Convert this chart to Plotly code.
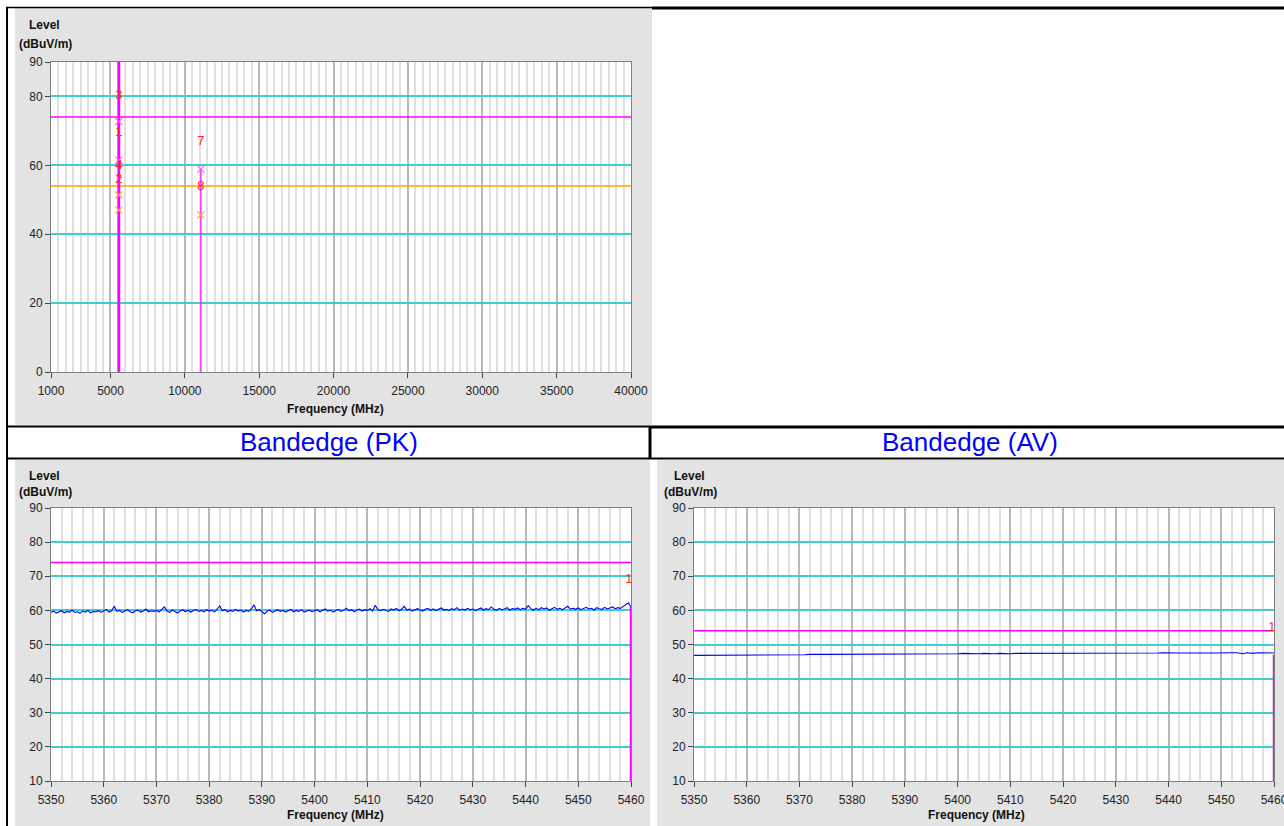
import plotly.graph_objects as go

W, H = 1284, 826

# ---------------- data ----------------
# Top chart (1 - 40 GHz scan)
top_x_ticks = [1000, 5000, 10000, 15000, 20000, 25000, 30000, 35000, 40000]
top_x_labels = ["1000", "5000", "10000", "15000", "20000", "25000", "30000", "35000", "40000"]
top_y_ticks = [0, 20, 40, 60, 80, 90]
top_peak_limit = 74
top_avg_limit = 54
top_spectrum_freqs = [5560, 11080]
top_spectrum_levels = [96, 58.9]
top_peak_mark_freqs = [5560, 5560, 11080]
top_peak_mark_levels = [72.7, 61.5, 58.9]
top_avg_mark_freqs = [5560, 5560, 11080]
top_avg_mark_levels = [51.4, 47.0, 45.6]
top_label_text = ["3", "1", "4", "2", "7", "8"]
top_label_freqs = [5560, 5560, 5560, 5560, 11080, 11080]
top_label_levels = [80.1, 69.4, 59.8, 55.7, 66.9, 53.8]

# Bandedge (PK)
pk_start = 5350
pk_step = 0.5
pk_levels = [
    59.4, 59.8, 59.2, 59.6, 59.9, 59.3, 59.7, 59.5, 60.1, 59.4, 59.6, 59.2, 59.8, 59.5, 60.0, 59.3, 59.7, 59.6, 59.9, 59.4,
    59.8, 60.3, 59.5, 59.9, 61.2, 59.7, 60.0, 59.4, 59.8, 60.2, 59.6, 59.3, 59.9, 60.1, 59.5, 59.8, 60.4, 59.6, 59.9, 59.7,
    60.0, 59.5, 60.3, 61.0, 59.8, 59.4, 60.1, 59.7, 59.2, 59.9, 60.2, 59.6, 60.0, 59.5, 59.8, 60.3, 59.7, 60.0, 59.6, 60.2,
    59.8, 60.1, 59.5, 60.4, 61.3, 59.9, 60.2, 59.6, 60.0, 59.7, 60.3, 59.8, 60.1, 59.5, 60.0, 59.7, 60.4, 61.6, 59.9, 60.2,
    59.6, 59.0, 59.8, 60.1, 59.4, 59.9, 60.2, 59.7, 60.0, 59.5, 59.8, 60.3, 59.6, 60.0, 59.7, 60.2, 59.5, 59.9, 60.1, 59.6,
    59.9, 60.2, 59.6, 60.0, 60.4, 59.8, 60.1, 59.5, 59.9, 60.3, 59.7, 60.0, 60.6, 59.9, 60.2, 59.6, 60.1, 60.4, 59.8, 60.2,
    60.0, 60.5, 59.8, 61.5, 60.2, 59.9, 60.3, 60.0, 59.7, 60.4, 60.1, 60.6, 59.9, 60.3, 61.2, 60.0, 60.4, 59.8, 60.2, 60.5,
    60.1, 59.8, 60.3, 60.6, 60.0, 60.4, 59.9, 60.2, 60.7, 60.1, 60.3, 59.9, 60.5, 60.2, 60.8, 60.0, 60.4, 60.1, 60.6, 60.2,
    60.4, 59.9, 60.3, 60.7, 60.1, 60.5, 60.2, 61.0, 60.3, 60.0, 60.6, 60.2, 60.4, 60.8, 60.1, 60.5, 60.3, 60.7, 60.2, 60.6,
    60.3, 61.4, 60.5, 60.1, 60.6, 60.2, 60.8, 60.4, 60.7, 60.0, 60.5, 60.9, 60.3, 60.6, 60.2, 60.7, 61.2, 60.4, 60.6, 60.3,
    60.7, 60.2, 60.5, 60.9, 60.4, 60.6, 60.1, 60.8, 60.5, 60.3, 60.9, 60.4, 60.7, 61.0, 60.5, 60.8, 60.6, 61.1, 61.5, 62.2,
    61.0,
]
pk_limit = 74
pk_marker_freq = 5460
pk_marker_level = 61.0
pk_label_freq = 5459.6
pk_label_level = 69.0

# Bandedge (AV)
av_start = 5350
av_step = 1.0
av_levels = [
    46.8, 46.8, 46.8, 46.9, 46.8, 46.9, 46.9, 46.9, 46.9, 46.9,
    46.9, 47.0, 46.9, 47.0, 47.0, 47.0, 46.9, 47.0, 47.0, 47.0,
    47.0, 47.0, 47.1, 47.0, 47.1, 47.1, 47.1, 47.1, 47.1, 47.1,
    47.1, 47.2, 47.1, 47.2, 47.2, 47.1, 47.2, 47.2, 47.2, 47.2,
    47.2, 47.2, 47.2, 47.3, 47.2, 47.2, 47.3, 47.3, 47.3, 47.2,
    47.3, 47.4, 47.3, 47.3, 47.3, 47.4, 47.3, 47.3, 47.4, 47.3,
    47.3, 47.4, 47.4, 47.3, 47.4, 47.4, 47.4, 47.4, 47.4, 47.4,
    47.4, 47.5, 47.4, 47.4, 47.5, 47.4, 47.5, 47.5, 47.4, 47.5,
    47.5, 47.5, 47.5, 47.5, 47.4, 47.5, 47.5, 47.5, 47.5, 47.6,
    47.5, 47.5, 47.5, 47.5, 47.6, 47.5, 47.5, 47.6, 47.5, 47.5,
    47.6, 47.5, 47.6, 47.6, 47.3, 47.6, 47.4, 47.6, 47.6, 47.7,
    47.5,
]
av_limit = 54
av_marker_freq = 5460
av_marker_level = 47.0
av_label_freq = 5459.6
av_label_level = 54.8

be_range = [5350, 5460]
be_y_range = [10, 90]

pk_freqs = [pk_start + i * pk_step for i in range(len(pk_levels))]
av_freqs = [av_start + i * av_step for i in range(len(av_levels))]

# ---------------- styling ----------------
MAG = "#ff00ff"
ORG = "#ffa500"
CYAN = "#44cccc"
BLUE = "#0000ff"
GRID_MAJ = "#b8b8b8"
GRID_MIN = "#e0e0e0"
FONT = "Liberation Sans, Arial, sans-serif"


def px(x):
    return x / W


def py(y):
    return 1 - y / H


fig = go.Figure()

# ---- top chart ----
fig.add_trace(go.Scatter(x=[top_x_ticks[0], top_x_ticks[-1]], y=[top_peak_limit] * 2, mode="lines",
                         line=dict(color=MAG, width=1.5), xaxis="x", yaxis="y", hoverinfo="skip"))
fig.add_trace(go.Scatter(x=[top_x_ticks[0], top_x_ticks[-1]], y=[top_avg_limit] * 2, mode="lines",
                         line=dict(color=ORG, width=1.5), xaxis="x", yaxis="y", hoverinfo="skip"))
widths = [2.8, 1.2]
for f, lv, w in zip(top_spectrum_freqs, top_spectrum_levels, widths):
    fig.add_trace(go.Scatter(x=[f, f], y=[0, lv], mode="lines", line=dict(color=MAG, width=w),
                             xaxis="x", yaxis="y", hoverinfo="skip"))
fig.add_trace(go.Scatter(x=top_peak_mark_freqs, y=top_peak_mark_levels, mode="markers",
                         marker=dict(symbol="x-thin", size=7, line=dict(color="#ff55ff", width=1.2)),
                         xaxis="x", yaxis="y", hoverinfo="skip"))
fig.add_trace(go.Scatter(x=top_avg_mark_freqs, y=top_avg_mark_levels, mode="markers",
                         marker=dict(symbol="x-thin", size=7, line=dict(color="#ffa050", width=1.2)),
                         xaxis="x", yaxis="y", hoverinfo="skip"))
fig.add_trace(go.Scatter(x=top_label_freqs, y=top_label_levels, mode="text", text=top_label_text,
                         textfont=dict(color="#ff2020", size=13, family=FONT), textposition="middle center",
                         xaxis="x", yaxis="y", hoverinfo="skip", cliponaxis=False))

# ---- bandedge PK ----
fig.add_trace(go.Scatter(x=be_range, y=[pk_limit] * 2, mode="lines", line=dict(color=MAG, width=1.5),
                         xaxis="x2", yaxis="y2", hoverinfo="skip"))
fig.add_trace(go.Scatter(x=pk_freqs, y=pk_levels, mode="lines", line=dict(color=BLUE, width=1.1),
                         xaxis="x2", yaxis="y2", hoverinfo="skip"))
fig.add_trace(go.Scatter(x=[pk_marker_freq, pk_marker_freq], y=[be_y_range[0], pk_marker_level], mode="lines",
                         line=dict(color=MAG, width=2.5), xaxis="x2", yaxis="y2", hoverinfo="skip"))
fig.add_trace(go.Scatter(x=[pk_label_freq], y=[pk_label_level], mode="text", text=["1"],
                         textfont=dict(color="#ff2020", size=12, family=FONT), xaxis="x2", yaxis="y2",
                         hoverinfo="skip", cliponaxis=False))

# ---- bandedge AV ----
fig.add_trace(go.Scatter(x=be_range, y=[av_limit] * 2, mode="lines", line=dict(color=MAG, width=1.5),
                         xaxis="x3", yaxis="y3", hoverinfo="skip"))
fig.add_trace(go.Scatter(x=av_freqs, y=av_levels, mode="lines", line=dict(color=BLUE, width=1.1),
                         xaxis="x3", yaxis="y3", hoverinfo="skip"))
fig.add_trace(go.Scatter(x=[av_marker_freq, av_marker_freq], y=[be_y_range[0], av_marker_level], mode="lines",
                         line=dict(color=MAG, width=2.5), xaxis="x3", yaxis="y3", hoverinfo="skip"))
fig.add_trace(go.Scatter(x=[av_label_freq], y=[av_label_level], mode="text", text=["1"],
                         textfont=dict(color="#ff2020", size=12, family=FONT), xaxis="x3", yaxis="y3",
                         hoverinfo="skip", cliponaxis=False))

tickfont = dict(family=FONT, size=12, color="#222222")
common_x = dict(showline=True, mirror=True, linecolor="#808080", linewidth=1, ticks="outside", ticklen=5,
                tickcolor="#444444", tickfont=tickfont, showgrid=True, gridcolor=GRID_MAJ, gridwidth=1.5,
                zeroline=False, ticklabelstandoff=3, fixedrange=True, automargin=False,
                ticklabeloverflow="allow")
common_y = dict(showline=True, mirror=True, linecolor="#808080", linewidth=1, ticks="outside", ticklen=5,
                tickcolor="#444444", tickfont=tickfont, showgrid=True, gridcolor=CYAN, gridwidth=1.5,
                zeroline=False, fixedrange=True, automargin=False, ticklabeloverflow="allow")

fig.update_layout(
    template="none",
    width=W, height=H, autosize=False,
    margin=dict(l=0, r=0, t=0, b=0, pad=0),
    paper_bgcolor="white", plot_bgcolor="white",
    showlegend=False,
    font=dict(family=FONT),
    xaxis=dict(common_x, domain=[px(51), px(631)], range=[top_x_ticks[0], top_x_ticks[-1]], anchor="y",
               tickmode="array", tickvals=top_x_ticks, ticktext=top_x_labels,
               minor=dict(tickmode="linear", tick0=1000, dtick=500, showgrid=True, gridcolor=GRID_MIN,
                          gridwidth=1.5, ticks="")),
    yaxis=dict(common_y, domain=[py(372), py(62)], range=[0, 90], anchor="x", tickmode="array",
               tickvals=top_y_ticks),
    xaxis2=dict(common_x, domain=[px(51), px(631)], range=be_range, anchor="y2", tickmode="linear",
                tick0=5350, dtick=10,
                minor=dict(tickmode="linear", tick0=5350, dtick=2, showgrid=True, gridcolor=GRID_MIN,
                           gridwidth=1.5, ticks="")),
    yaxis2=dict(common_y, domain=[py(781), py(508)], range=be_y_range, anchor="x2", tickmode="linear",
                tick0=10, dtick=10),
    xaxis3=dict(common_x, domain=[px(694), px(1274)], range=be_range, anchor="y3", tickmode="linear",
                tick0=5350, dtick=10,
                minor=dict(tickmode="linear", tick0=5350, dtick=2, showgrid=True, gridcolor=GRID_MIN,
                           gridwidth=1.5, ticks="")),
    yaxis3=dict(common_y, domain=[py(781), py(508)], range=be_y_range, anchor="x3", tickmode="linear",
                tick0=10, dtick=10),
)

# backgrounds and table borders
GRAY = "#e3e3e3"
shapes = []
for (x0, y0, x1, y1) in [(15, 8, 652, 425), (15, 460, 650, 826), (657, 460, 1284, 826)]:
    shapes.append(dict(type="rect", xref="paper", yref="paper", x0=px(x0), x1=px(x1), y0=py(y1), y1=py(y0),
                       fillcolor=GRAY, line=dict(width=0), layer="below"))
for (x0, y0, x1, y1) in [(51, 62, 631, 372), (51, 508, 631, 781), (694, 508, 1274, 781)]:
    shapes.append(dict(type="rect", xref="paper", yref="paper", x0=px(x0), x1=px(x1), y0=py(y1), y1=py(y0),
                       fillcolor="white", line=dict(width=0), layer="below"))


def hline(y, x0, x1, w):
    return dict(type="line", xref="paper", yref="paper", x0=px(x0), x1=px(x1), y0=py(y), y1=py(y),
                line=dict(color="black", width=w), layer="above")


def vline(x, y0, y1, w):
    return dict(type="line", xref="paper", yref="paper", x0=px(x), x1=px(x), y0=py(y0), y1=py(y1),
                line=dict(color="black", width=w), layer="above")


shapes += [
    vline(7, 7, 826, 2),
    hline(7.5, 6, 652, 1.5), hline(8, 652, 1284, 3),
    hline(426.5, 6, 651, 2), hline(427, 651, 1284, 3),
    hline(458.5, 6, 1284, 2),
    vline(650, 426, 459, 3),
]
fig.update_layout(shapes=shapes)

# axis titles as annotations
ann = []
bold = dict(family=FONT, size=12, color="#111111")
for (x, y, t) in [(45, 25, "Level"), (46, 44, "(dBuV/m)"), (45, 476, "Level"), (46, 492, "(dBuV/m)"),
                  (689, 476, "Level"), (690, 492, "(dBuV/m)"),
                  (335, 409, "Frequency (MHz)"), (335, 815, "Frequency (MHz)"), (976, 815, "Frequency (MHz)")]:
    ann.append(dict(xref="paper", yref="paper", x=px(x), y=py(y), text="<b>%s</b>" % t, showarrow=False,
                    xanchor="center", yanchor="middle", font=bold))
for (x, t) in [(329, "Bandedge (PK)"), (970, "Bandedge (AV)")]:
    ann.append(dict(xref="paper", yref="paper", x=px(x), y=py(442), text=t, showarrow=False,
                    xanchor="center", yanchor="middle", font=dict(family=FONT, size=26, color=BLUE)))
fig.update_layout(annotations=ann)

fig.write_html("out.html", config={"displayModeBar": False})
